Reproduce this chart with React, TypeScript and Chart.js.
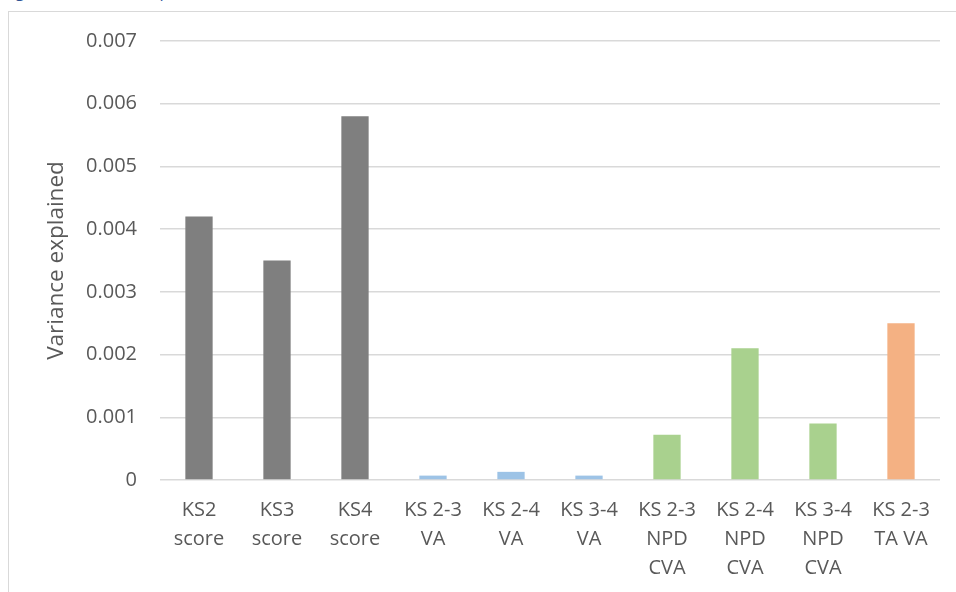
import React, { useEffect, useRef } from "react";
import { Chart, registerables } from "chart.js";

Chart.register(...registerables);

// Measures compared, one bar each
const categories: string[][] = [
  ["KS2", "score"],
  ["KS3", "score"],
  ["KS4", "score"],
  ["KS 2-3", "VA"],
  ["KS 2-4", "VA"],
  ["KS 3-4", "VA"],
  ["KS 2-3", "NPD", "CVA"],
  ["KS 2-4", "NPD", "CVA"],
  ["KS 3-4", "NPD", "CVA"],
  ["KS 2-3", "TA VA"],
];

// Share of variance explained by each measure
const varianceExplained: number[] = [
  0.0042, 0.0035, 0.0058, 0.00007, 0.00013, 0.00007, 0.00072, 0.0021, 0.0009,
  0.0025,
];

// Which family each measure belongs to
const measureGroup: string[] = [
  "score", "score", "score", "va", "va", "va", "cva", "cva", "cva", "ta",
];

const yTicks = { min: 0, max: 0.007, step: 0.001 };

const groupColour: Record<string, string> = {
  score: "#7f7f7f",
  va: "#9dc3e6",
  cva: "#a9d18e",
  ta: "#f4b183",
};

const FONT = "'Open Sans', 'DejaVu Sans', sans-serif";
const TEXT = "#595959";
const GRID = "#d9d9d9";

const CANVAS_W = 947;
const CANVAS_H = 580;
const AREA_LEFT = 151;
const AREA_RIGHT = 931;
const AREA_TOP = 29;
const AREA_BOTTOM = 468;

export default function App() {
  const canvasRef = useRef<HTMLCanvasElement | null>(null);

  useEffect(() => {
    const canvas = canvasRef.current;
    if (!canvas) return;
    const chart = new Chart(canvas, {
      type: "bar",
      data: {
        labels: categories,
        datasets: [
          {
            label: "Variance explained",
            data: varianceExplained,
            backgroundColor: measureGroup.map((g) => groupColour[g]),
            borderWidth: 0,
            barPercentage: 0.35,
            categoryPercentage: 1,
          },
        ],
      },
      options: {
        responsive: false,
        animation: false,
        devicePixelRatio: 1,
        layout: {
          padding: {
            top: AREA_TOP,
            right: CANVAS_W - AREA_RIGHT,
            left: 0,
            bottom: 0,
          },
        },
        plugins: {
          legend: { display: false },
          tooltip: { enabled: false },
          title: { display: false },
        },
        scales: {
          x: {
            grid: { display: false, drawTicks: false },
            border: { display: false },
            ticks: {
              color: TEXT,
              font: { family: FONT, size: 20, lineHeight: 1.45 },
              padding: 16,
              maxRotation: 0,
              minRotation: 0,
              autoSkip: false,
            },
            afterFit: (scale: any) => {
              scale.height = CANVAS_H - AREA_BOTTOM;
            },
          },
          y: {
            min: yTicks.min,
            max: yTicks.max,
            grid: {
              color: GRID,
              lineWidth: 1.5,
              drawTicks: false,
            },
            border: { display: false },
            ticks: {
              stepSize: yTicks.step,
              color: TEXT,
              font: { family: FONT, size: 20 },
              padding: 23,
              callback: (v: any) => (Number(v) === 0 ? "0" : Number(v).toFixed(3)),
            },
            title: {
              display: true,
              text: "Variance explained",
              color: TEXT,
              font: { family: FONT, size: 22.5, lineHeight: 1.2 },
              padding: { top: 34, bottom: 0 },
            },
            afterFit: (scale: any) => {
              scale.width = AREA_LEFT;
              scale.paddingTop = 0;
              scale.paddingBottom = 0;
            },
          },
        },
      },
    });
    return () => chart.destroy();
  }, []);

  return (
    <div
      style={{
        position: "fixed",
        inset: 0,
        overflow: "hidden",
        background: "#ffffff",
      }}
    >
      <div
        style={{
          position: "absolute",
          left: 3,
          top: -17,
          fontFamily: FONT,
          fontSize: 16.3,
          lineHeight: 1,
          color: "#2f5496",
          whiteSpace: "nowrap",
        }}
      >
        Figure 4: Variance explained
      </div>
      <div
        style={{
          position: "absolute",
          left: 8,
          top: 11,
          width: 1000,
          height: 700,
          border: `1px solid ${GRID}`,
          boxSizing: "border-box",
        }}
      />
      <canvas
        ref={canvasRef}
        width={CANVAS_W}
        height={CANVAS_H}
        style={{
          position: "absolute",
          left: 9,
          top: 12,
          width: CANVAS_W,
          height: CANVAS_H,
        }}
      />
    </div>
  );
}
